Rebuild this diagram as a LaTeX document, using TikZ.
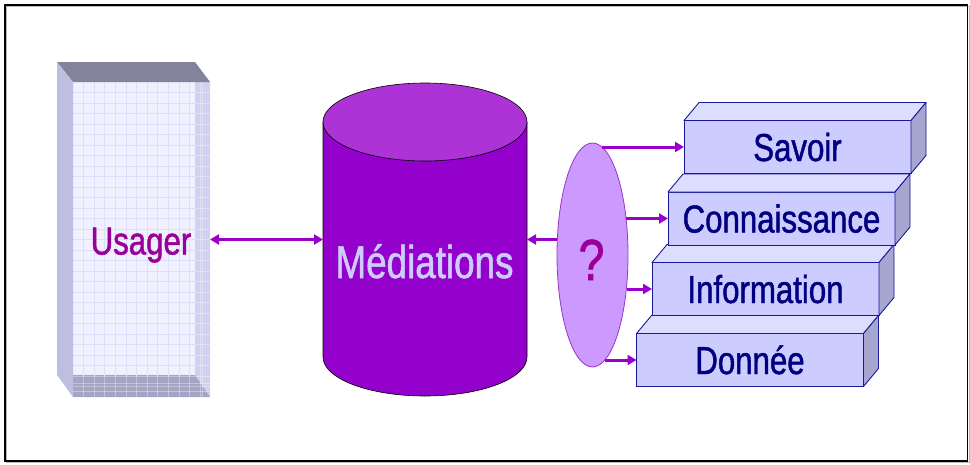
\documentclass[tikz,border=0pt]{standalone}
\usepackage{fontspec}
\setmainfont{Liberation Sans}[FakeStretch=0.8, FakeBold=1.2]
\usetikzlibrary{arrows.meta,shapes.geometric}

\definecolor{uTop}{HTML}{83839B}
\definecolor{uLeft}{HTML}{BEBEE0}
\definecolor{uFront}{HTML}{F0F0FF}
\definecolor{uRight}{HTML}{D0D0F0}
\definecolor{uBottom}{HTML}{A4A4C4}
\definecolor{uGrid}{HTML}{DEDEFA}
\definecolor{uText}{HTML}{990099}
\definecolor{cylBody}{HTML}{9400CC}
\definecolor{cylTop}{HTML}{AD33D6}
\definecolor{cylText}{HTML}{CCCCFF}
\definecolor{linkPurple}{HTML}{9900CC}
\definecolor{qFill}{HTML}{CC99FF}
\definecolor{qEdge}{HTML}{9933CC}
\definecolor{stFront}{HTML}{CCCCFF}
\definecolor{stTop}{HTML}{DDDDFF}
\definecolor{stSide}{HTML}{A6A6D0}
\definecolor{stEdge}{HTML}{1A1A99}
\definecolor{stText}{HTML}{000080}

\begin{document}
\begin{tikzpicture}[x=1pt,y=-1pt,
  >={Triangle[length=9pt,width=10pt]},
  link/.style={draw=linkPurple, line width=3pt},
  stairbox/.style={draw=stEdge, fill=stFront, line width=0.9pt,
    minimum width=227pt, minimum height=53pt, inner sep=0pt, outer sep=0pt,
    text=stText, font=\fontsize{39}{40}\selectfont,
    text height=28pt, text depth=0pt},
  stairtop/.style={draw=stEdge, fill=stTop, line width=0.9pt, line join=round},
  stairside/.style={draw=stEdge, fill=stSide, line width=0.9pt, line join=round},
  hidden/.style={inner sep=0pt, outer sep=0pt}]

\useasboundingbox (0,0) rectangle (970,464);

% outer frame with a soft shadow
\draw[gray!55, line width=1.2pt] (6.5,6.5) rectangle (969.3,462.8);
\draw[black, line width=1.3pt] (5,5) rectangle (967.5,461);

% ---- Usager: open box with a grid on its inner walls ----
\fill[uFront] (73,82) rectangle (195,375);
\fill[uRight] (195,62) -- (210,82) -- (210,397) -- (195,375) -- cycle;
\fill[uBottom] (73,375) -- (195,375) -- (210,397) -- (73,397) -- cycle;
\begin{scope}
  \clip (73,82) rectangle (195,375);
  \foreach \k in {1,...,12} {
    \draw[uGrid, line width=0.8pt] (73+\k*10.6,82) -- (73+\k*10.6,397);
  }
  \foreach \k in {1,...,29} {
    \draw[uGrid, line width=0.8pt] (73,82+\k*10.5) -- (210,82+\k*10.5);
  }
\end{scope}
\begin{scope}
  \clip (195,62) -- (210,82) -- (210,397) -- (195,375) -- cycle
        (73,375) -- (195,375) -- (210,397) -- (73,397) -- cycle;
  \foreach \k in {1,...,12} {
    \draw[white, opacity=0.35, line width=0.8pt] (73+\k*10.6,82) -- (73+\k*10.6,397);
  }
  \draw[white, opacity=0.35, line width=0.8pt] (202.5,62) -- (202.5,397);
  \foreach \k in {1,...,30} {
    \draw[white, opacity=0.35, line width=0.8pt] (73,82+\k*10.5) -- (210,82+\k*10.5);
  }
  \draw[white, opacity=0.35, line width=0.8pt] (73,383) -- (210,383);
  \draw[white, opacity=0.35, line width=0.8pt] (73,391) -- (210,391);
\end{scope}
\fill[uTop] (57,62) -- (195,62) -- (210,82) -- (73,82) -- cycle;
\fill[uLeft] (57,62) -- (73,82) -- (73,397) -- (57,375) -- cycle;
\node[hidden, minimum width=137pt, minimum height=315pt] (ubox) at (141.5,239.5) {};
\node[hidden, text=uText, font=\fontsize{39}{40}\selectfont,
      text height=28pt, text depth=0pt] (usager) at (141,240.5) {Usager};

% ---- Médiations: cylinder ----
\filldraw[fill=cylBody, draw=black, line width=0.6pt]
  (323,122) -- (323,357)
  arc[start angle=180, end angle=360, x radius=102pt, y radius=39pt]
  -- (527,122) -- cycle;
\filldraw[fill=cylTop, draw=black, line width=0.6pt]
  (425,122) ellipse[x radius=102pt, y radius=39pt];
\node[hidden, minimum width=204pt, minimum height=313pt] (med) at (425,239.5) {};
\node[hidden, text=cylText, font=\fontsize{46}{47}\selectfont,
      text height=33pt, text depth=0pt] (medlabel) at (424.5,261.5) {Médiations};

% ---- question ellipse ----
\node[ellipse, draw=qEdge, fill=qFill, line width=0.8pt,
      minimum width=71pt, minimum height=224pt, inner sep=0pt] (q) at (592.5,255) {};
\node[hidden, text=uText, font=\fontsize{58}{58}\selectfont,
      text height=42pt, text depth=0pt] (qmark) at (591.5,259) {?};

% ---- stair of knowledge levels ----
\foreach \nm/\cx/\cy/\txt in {dn/750/360/Donnée, inf/765.5/289/Information,
                              con/781.5/218.5/Connaissance, sv/797.5/147/Savoir} {
  \node[stairbox] (\nm) at (\cx,\cy) {\txt};
  \filldraw[stairtop] (\nm.north west) -- ++(15,-18) -- ++(227,0)
    -- (\nm.north east) -- cycle;
  \filldraw[stairside] (\nm.north east) -- ++(15,-18) -- ++(0,53)
    -- (\nm.south east) -- cycle;
}

% ---- connectors ----
\draw[link, <->] (ubox.east) -- (med.west);
\draw[link, ->] (q.west |- med.east) -- (med.east);
\draw[link, ->] (q.85 |- sv.west) -- (sv.west);
\draw[link, ->] (q.48 |- con.west) -- (con.west);
\draw[link, ->] (q.-45 |- inf.west) -- (inf.west);
\draw[link, ->] (q.-83 |- dn.west) -- (dn.west);

\end{tikzpicture}
\end{document}
